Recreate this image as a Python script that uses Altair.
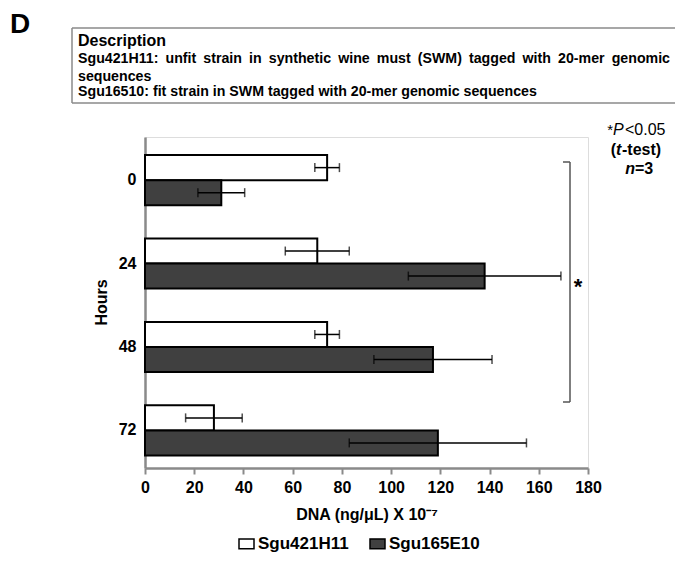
import altair as alt
import pandas as pd

hours = ["0", "24", "48", "72"]
strains = ["Sgu421H11", "Sgu165E10"]
white_mean = [74, 70, 74, 28]
white_err = [5, 13, 5, 11.5]
dark_mean = [31, 138, 117, 119]
dark_err = [9.5, 31, 24, 36]
x_ticks = [0, 20, 40, 60, 80, 100, 120, 140, 160, 180]
desc_lines = [
    "Sgu421H11: unfit strain in synthetic wine must (SWM) tagged with 20-mer genomic",
    "sequences",
    "Sgu16510: fit strain in SWM tagged with 20-mer genomic sequences",
]

FONT = "Liberation Sans"

rows = []
for i, h in enumerate(hours):
    rows.append({"Hours": h, "Strain": strains[0], "val": white_mean[i], "err": white_err[i]})
    rows.append({"Hours": h, "Strain": strains[1], "val": dark_mean[i], "err": dark_err[i]})
df = pd.DataFrame(rows)
df["lo"] = df["val"] - df["err"]
df["hi"] = df["val"] + df["err"]

yscale = alt.Scale(domain=hours, paddingInner=0.4, paddingOuter=0.184, align=0.59)
yoff = alt.YOffset("Strain:N", scale=alt.Scale(domain=strains, paddingInner=0, paddingOuter=0), sort=strains)
xscale = alt.Scale(domain=[0, 180], nice=False, zero=True)

base = alt.Chart(df)

bars = base.mark_bar(stroke="black", strokeWidth=2).encode(
    x=alt.X("val:Q", scale=xscale,
            axis=alt.Axis(values=x_ticks, title="DNA (ng/\u03bcL) X 10\u207b\u2077", grid=False,
                          domainColor="#8a8a8a", domainWidth=2.5, tickColor="#8a8a8a",
                          tickWidth=2, tickSize=6, labelFont=FONT, labelFontSize=16,
                          labelFontWeight="bold", labelColor="black", labelPadding=5,
                          labelFlush=False,
                          titleFont=FONT, titleFontSize=16, titleFontWeight="bold",
                          titleColor="black", titlePadding=11)),
    y=alt.Y("Hours:N", scale=yscale, sort=hours,
            axis=alt.Axis(title="Hours", ticks=False, domainColor="#8a8a8a", domainWidth=2.5,
                          labelFont=FONT, labelFontSize=16, labelFontWeight="bold",
                          labelColor="black", labelPadding=9, labelAngle=0,
                          titleFont=FONT, titleFontSize=16, titleFontWeight="bold",
                          titleColor="black", titleX=-44, titleY=165, titleAngle=-90,
                          titleBaseline="middle")),
    yOffset=yoff,
    fill=alt.Fill("Strain:N", scale=alt.Scale(domain=strains, range=["white", "#404040"]),
                  legend=alt.Legend(title=None, orient="none", legendX=93, legendY=398,
                                    direction="horizontal",
                                    symbolType="M-1,-0.65L1,-0.65L1,0.65L-1,0.65Z",
                                    symbolSize=225, symbolStrokeColor="black",
                                    symbolStrokeWidth=1.5, symbolOpacity=1,
                                    labelFont=FONT, labelFontSize=17, labelFontWeight="bold",
                                    labelColor="black", labelBaseline="middle", labelOffset=3,
                                    columnPadding=18, padding=0)),
)

err_rule = base.mark_rule(color="black", strokeWidth=1.5).encode(
    x="lo:Q", x2="hi:Q", y=alt.Y("Hours:N", sort=hours), yOffset=yoff,
)
cap_lo = base.mark_tick(color="black", thickness=1.5, size=9).encode(
    x="lo:Q", y=alt.Y("Hours:N", sort=hours), yOffset=yoff,
)
cap_hi = base.mark_tick(color="black", thickness=1.5, size=9).encode(
    x="hi:Q", y=alt.Y("Hours:N", sort=hours), yOffset=yoff,
)

dummy = pd.DataFrame({"a": [0]})


def txt(s, x, y, size=14, weight="normal", style="normal", align="left", color="black",
        baseline="middle"):
    return alt.Chart(dummy).mark_text(
        text=s, font=FONT, fontSize=size, fontWeight=weight, fontStyle=style,
        align=align, baseline=baseline, color=color,
    ).encode(x=alt.value(x), y=alt.value(y))


def hrule(x1, x2, y, color="#8a8a8a", w=1.5):
    return alt.Chart(dummy).mark_rule(color=color, strokeWidth=w).encode(
        x=alt.value(x1), x2=alt.value(x2), y=alt.value(y))


def vrule(x, y1, y2, color="#8a8a8a", w=1.5):
    return alt.Chart(dummy).mark_rule(color=color, strokeWidth=w).encode(
        x=alt.value(x), y=alt.value(y1), y2=alt.value(y2))


SP = "\u2002"  # widened word gap to mimic justified text
line0 = SP.join(desc_lines[0].split(" "))

annot = [
    txt("D", -125, -104, size=28, weight="bold", align="center", baseline="alphabetic"),
    hrule(-73, 540, -109),
    hrule(-73, 540, -34),
    vrule(-73, -109, -34),
    txt("Description", -67, -96, size=16, weight="bold"),
    txt(line0, -67, -78, size=14.2, weight="bold"),
    txt(desc_lines[1], -67, -60, size=14.2, weight="bold"),
    txt(desc_lines[2], -67, -45, size=14.2, weight="bold"),
    # significance bracket
    vrule(425, 25, 265, color="#555555", w=1.5),
    hrule(418, 425, 25, color="#555555", w=1.5),
    hrule(418, 425, 265, color="#555555", w=1.5),
    txt("*", 433, 150, size=22, weight="bold", align="center"),
    # stats note
    txt("*", 468, -7, size=15, align="right"),
    txt("P", 468, -7, size=16, style="italic", align="left"),
    txt("<0.05", 480, -7, size=16, align="left"),
    txt("(", 471, 13, size=16, weight="bold", align="right"),
    txt("t", 471, 13, size=16, weight="bold", style="italic", align="left"),
    txt("-test)", 477, 13, size=16, weight="bold", align="left"),
    txt("n", 490, 32, size=16, weight="bold", style="italic", align="right"),
    txt("=3", 490, 32, size=16, weight="bold", align="left"),
]

chart = alt.layer(bars, err_rule, cap_lo, cap_hi, *annot).properties(
    width=443, height=331,
    padding={"left": 137, "top": 129, "right": 87, "bottom": 88},
    autosize=alt.AutoSizeParams(type="none"),
).configure_view(stroke=None).configure(background="white")

chart.save("out.html", embed_options={"renderer": "svg", "actions": False})
